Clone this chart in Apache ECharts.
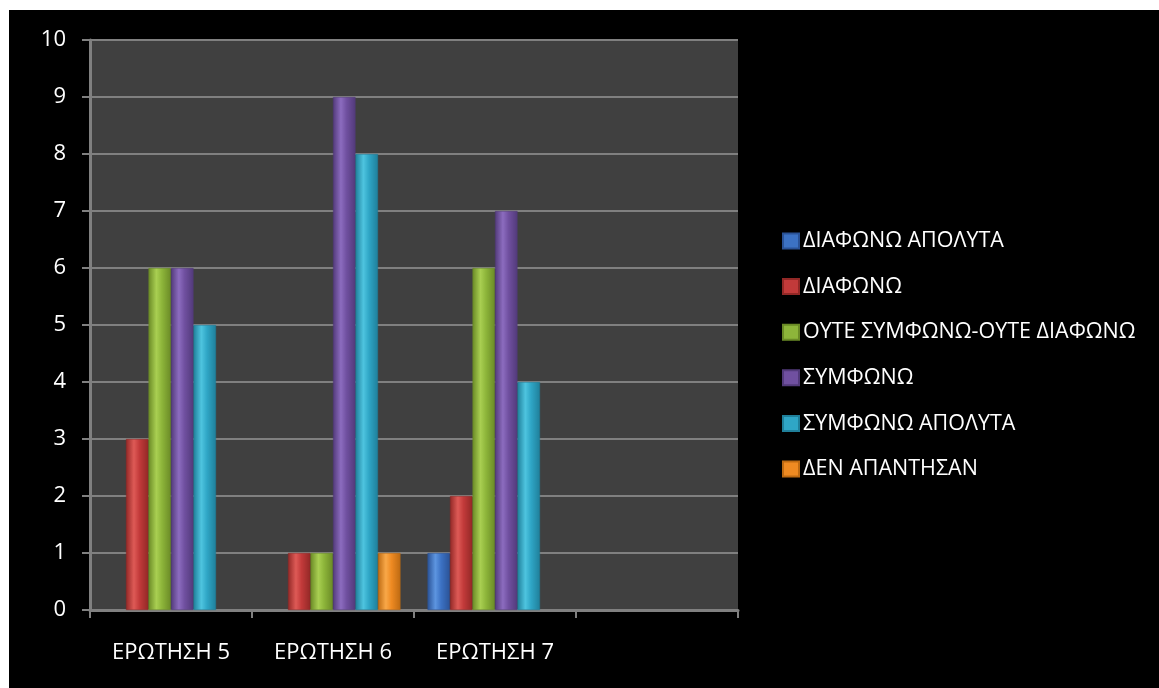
<!DOCTYPE html>
<html>
<head>
<meta charset="utf-8">
<style>
  html, body { margin: 0; padding: 0; background: #ffffff; width: 1159px; height: 688px; overflow: hidden; }
  #chart { position: absolute; left: 9px; top: 10px; width: 1150px; height: 678px; background: #000000; }
</style>
<script src="https://cdn.jsdelivr.net/npm/echarts@6/dist/echarts.min.js"></script>
</head>
<body>
<div id="chart"></div>
<script>
// Questions (the fourth slot is left empty on the axis)
const categories = ['ΕΡΩΤΗΣΗ 5', 'ΕΡΩΤΗΣΗ 6', 'ΕΡΩΤΗΣΗ 7', ''];

// Answer counts per question
const seriesNames = [
  'ΔΙΑΦΩΝΩ ΑΠΟΛΥΤΑ',
  'ΔΙΑΦΩΝΩ',
  'ΟΥΤΕ ΣΥΜΦΩΝΩ-ΟΥΤΕ ΔΙΑΦΩΝΩ',
  'ΣΥΜΦΩΝΩ',
  'ΣΥΜΦΩΝΩ ΑΠΟΛΥΤΑ',
  'ΔΕΝ ΑΠΑΝΤΗΣΑΝ'
];
const disagreeFully = [0, 0, 1, null];
const disagree      = [3, 1, 2, null];
const neutral       = [6, 1, 6, null];
const agree         = [6, 9, 7, null];
const agreeFully    = [5, 8, 4, null];
const noAnswer      = [0, 1, 0, null];

const yTicks = [0, 1, 2, 3, 4, 5, 6, 7, 8, 9, 10];

const seriesValues = [disagreeFully, disagree, neutral, agree, agreeFully, noAnswer];

// base, light, dark shades for each series
const palette = [
  ['#3c72c4', '#5d95e0', '#2a5296'],
  ['#c23a3a', '#de5a56', '#922826'],
  ['#8db53a', '#a9cf52', '#6a8a26'],
  ['#7050a0', '#8c6cbf', '#523a7a'],
  ['#2fa6c6', '#4ec4df', '#1f7f9a'],
  ['#ee8a22', '#f9a848', '#bd6a12']
];

function barFill(c) {
  return new echarts.graphic.LinearGradient(0, 0, 1, 0, [
    { offset: 0, color: c[2] },
    { offset: 0.35, color: c[1] },
    { offset: 0.6, color: c[0] },
    { offset: 1, color: c[2] }
  ]);
}

const chart = echarts.init(document.getElementById('chart'));

const series = seriesNames.map((name, i) => ({
  name: name,
  type: 'bar',
  data: seriesValues[i].map(v => (v === 0 ? null : v)),
  barGap: '0%',
  barCategoryGap: '16.7%',
  itemStyle: {
    color: barFill(palette[i]),
    borderColor: palette[i][2],
    borderWidth: 0.5
  },
  emphasis: { disabled: true }
}));

chart.setOption({
  backgroundColor: '#000000',
  animation: false,
  textStyle: { fontFamily: 'Open Sans' },
  grid: {
    left: 81, top: 30, width: 648, height: 570,
    show: true, backgroundColor: '#404040', borderWidth: 0
  },
  legend: {
    orient: 'vertical',
    left: 768,
    top: 214,
    itemWidth: 16,
    itemHeight: 15,
    itemGap: 21.6,
    icon: 'rect',
    data: seriesNames.map((n, i) => ({ name: n, itemStyle: { color: palette[i][0] } })),
    textStyle: { color: '#ffffff', fontSize: 21.5, fontFamily: 'Open Sans', lineHeight: 24, padding: [0, 0, 0, -1] }
  },
  xAxis: {
    type: 'category',
    data: categories,
    boundaryGap: true,
    axisLine: { lineStyle: { color: '#808080', width: 3 } },
    axisTick: { show: true, alignWithLabel: false, length: 8, lineStyle: { color: '#808080', width: 2 } },
    axisLabel: { color: '#ffffff', fontSize: 22, margin: 32, interval: 0 },
    splitLine: { show: false }
  },
  yAxis: {
    type: 'value',
    min: yTicks[0],
    max: yTicks[yTicks.length - 1],
    interval: 1,
    axisLine: { show: true, lineStyle: { color: '#808080', width: 3 } },
    axisTick: { show: true, length: 8, lineStyle: { color: '#808080', width: 2 } },
    axisLabel: { color: '#ffffff', fontSize: 22, margin: 24 },
    splitLine: { show: true, lineStyle: { color: '#808080', width: 2 } }
  },
  series: series
});
</script>
</body>
</html>
